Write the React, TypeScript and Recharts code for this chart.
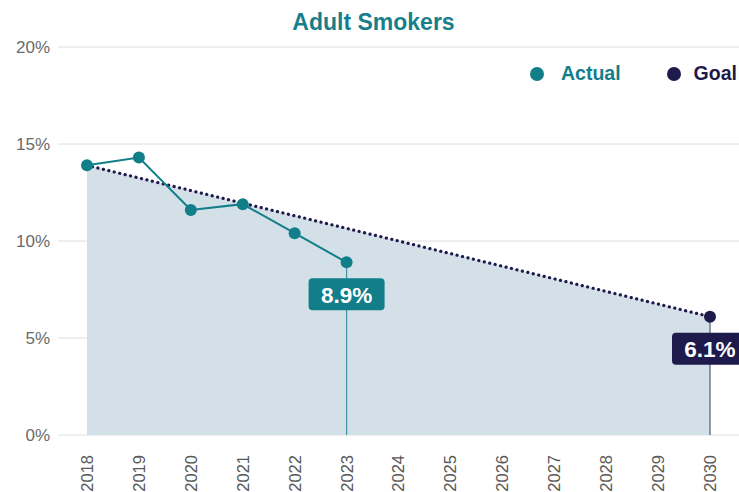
import { Area, CartesianGrid, ComposedChart, LabelList, Line, ReferenceLine, XAxis, YAxis } from "recharts";

const years = [2018, 2019, 2020, 2021, 2022, 2023, 2024, 2025, 2026, 2027, 2028, 2029, 2030];
const actual = [13.9, 14.3, 11.6, 11.9, 10.4, 8.9, null, null, null, null, null, null, null];
const goal = [13.9, null, null, null, null, null, null, null, null, null, null, null, 6.1];
const yTicks = [0, 5, 10, 15, 20];

const TEAL = "#117e8a";
const NAVY = "#1f1a4c";
const FONT = "'Liberation Sans', Arial, Helvetica, sans-serif";

const data = years.map((year, i) => ({ year, actual: actual[i], goal: goal[i] }));

const lastActual = actual.reduce((acc, v, i) => (v != null ? i : acc), -1);
const lastGoal = goal.length - 1;

function YearTick({ x, y, payload }: any) {
  const top = y + 12;
  return (
    <text
      x={x}
      y={top}
      transform={`rotate(-90 ${x} ${top})`}
      textAnchor="end"
      dy="0.36em"
      fontSize={16.5}
      fontFamily={FONT}
      fill="#595959"
    >
      {payload.value}
    </text>
  );
}

function valueBadge(target: number, color: string) {
  return (props: any) => {
    const { x, y, value, index } = props;
    if (index !== target || value == null) return null;
    return (
      <g>
        <rect x={x - 38} y={y + 16} width={76} height={32} rx={4} fill={color} />
        <text
          x={x}
          y={y + 32.5}
          textAnchor="middle"
          dy="0.36em"
          fontSize={22.5}
          fontWeight="bold"
          fontFamily={FONT}
          fill="#ffffff"
        >
          {`${value}%`}
        </text>
      </g>
    );
  };
}

function GoalDot(props: any) {
  const { cx, cy, index } = props;
  if (index !== lastGoal) return null;
  return <circle cx={cx} cy={cy} r={6} fill={NAVY} />;
}

export default function App() {
  return (
    <div
      style={{
        position: "absolute",
        left: 0,
        top: 0,
        width: 739,
        height: 492,
        overflow: "hidden",
        background: "#fff",
        fontFamily: FONT,
      }}
    >
      <div
        style={{
          position: "absolute",
          top: 11,
          left: 4,
          width: 739,
          textAlign: "center",
          color: "#177f8b",
          fontSize: 23,
          fontWeight: "bold",
          lineHeight: 1,
        }}
      >
        Adult Smokers
      </div>
      <div style={{ position: "absolute", top: 62, left: 530, display: "flex", alignItems: "center", fontSize: 19.5, fontWeight: "bold" }}>
        <span style={{ width: 14, height: 14, borderRadius: 7, background: TEAL, display: "inline-block", marginRight: 17 }} />
        <span style={{ color: TEAL }}>Actual</span>
        <span style={{ width: 14, height: 14, borderRadius: 7, background: NAVY, display: "inline-block", marginLeft: 46, marginRight: 13 }} />
        <span style={{ color: NAVY }}>Goal</span>
      </div>
      <ComposedChart width={739} height={492} data={data} margin={{ top: 47, right: 0, bottom: 0, left: 0 }}>
        <CartesianGrid horizontal vertical={false} stroke="#dedede" />
        <XAxis
          dataKey="year"
          type="number"
          domain={[2018, 2030]}
          ticks={years}
          interval={0}
          axisLine={false}
          tickLine={false}
          height={57}
          padding={{ left: 29, right: 29 }}
          tick={<YearTick />}
        />
        <YAxis
          domain={[0, 20]}
          ticks={yTicks}
          tickFormatter={(v) => `${v}%`}
          axisLine={false}
          tickLine={false}
          width={58}
          tick={{ fontSize: 17, fill: "#6a6a6a", fontFamily: FONT }}
        />
        <Area
          dataKey="goal"
          type="linear"
          connectNulls
          stroke="none"
          fill="#d4e0e8"
          fillOpacity={1}
          isAnimationActive={false}
          dot={false}
          activeDot={false}
        />
        <ReferenceLine
          segment={[{ x: years[lastActual], y: 0 }, { x: years[lastActual], y: actual[lastActual] as number }]}
          stroke="#3f94a0"
          strokeWidth={1.2}
        />
        <ReferenceLine
          segment={[{ x: years[lastGoal], y: 0 }, { x: years[lastGoal], y: goal[lastGoal] as number }]}
          stroke="#55596e"
          strokeWidth={1.2}
        />
        <Line
          dataKey="goal"
          type="linear"
          connectNulls
          stroke={NAVY}
          strokeWidth={3.2}
          strokeDasharray="0.1 5.5"
          strokeLinecap="round"
          dot={<GoalDot />}
          activeDot={false}
          isAnimationActive={false}
        >
          <LabelList dataKey="goal" content={valueBadge(lastGoal, NAVY)} />
        </Line>
        <Line
          dataKey="actual"
          type="linear"
          stroke={TEAL}
          strokeWidth={2}
          dot={{ r: 6, fill: TEAL, stroke: TEAL, strokeWidth: 0 }}
          activeDot={false}
          isAnimationActive={false}
        >
          <LabelList dataKey="actual" content={valueBadge(lastActual, TEAL)} />
        </Line>
      </ComposedChart>
    </div>
  );
}
